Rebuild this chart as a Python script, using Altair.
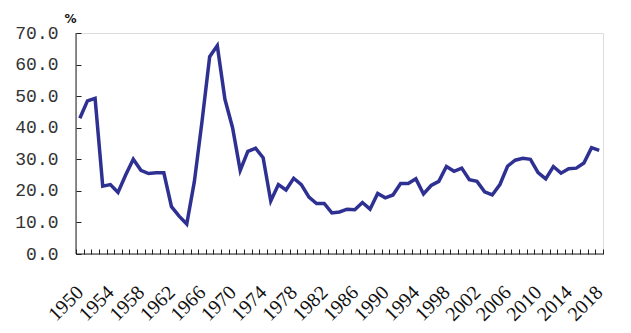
import altair as alt
import pandas as pd

years = list(range(1950, 2019))
values = [
    43.0, 48.5, 49.3, 21.5, 22.0, 19.5, 25.0, 30.0, 26.5, 25.5,
    25.7, 25.7, 15.0, 12.0, 9.5, 23.0, 42.0, 62.5, 66.0, 49.0,
    40.0, 26.5, 32.5, 33.5, 30.5, 16.8, 22.0, 20.3, 24.0, 22.0,
    18.0, 16.0, 16.0, 13.0, 13.3, 14.2, 14.0, 16.3, 14.2, 19.2,
    17.8, 18.7, 22.3, 22.3, 23.8, 19.0, 21.7, 23.0, 27.7, 26.2,
    27.2, 23.5, 23.0, 19.7, 18.7, 22.0, 27.8, 29.7, 30.3, 30.0,
    25.8, 23.8, 27.7, 25.6, 27.0, 27.2, 28.8, 33.7, 32.8,
]
y_ticks = [0, 10, 20, 30, 40, 50, 60, 70]
label_years = [str(y) for y in range(1950, 2019, 4)]

df = pd.DataFrame({"year": [str(y) for y in years], "value": values})
zero_df = pd.DataFrame({"value": [0]})

x_enc = alt.X(
    "year:O",
    sort=None,
    scale=alt.Scale(type="band", paddingInner=0, paddingOuter=0),
    axis=alt.Axis(
        title=None,
        domain=False,
        ticks=True,
        tickBand="extent",
        tickSize=5,
        tickColor="#222222",
        tickWidth=1,
        offset=-5,
        labelAngle=-45,
        labelAlign="right",
        labelBaseline="middle",
        labelPadding=35,
        labelFont="Liberation Serif",
        labelFontSize=20,
        labelColor="#111111",
        labelExpr="indexof(" + str(label_years) + ", datum.value) >= 0 ? datum.value : ''",
        labelOverlap=False,
        labelBound=False,
        grid=False,
    ),
)

y_scale = alt.Scale(domain=[0, 70], nice=False, zero=True)
y_axis = alt.Axis(
    title="%",
    titleAngle=0,
    titleAlign="right",
    titleBaseline="bottom",
    titleX=-5,
    titleY=-8,
    titleFont="DejaVu Sans",
    titleFontSize=12,
    titleFontWeight="bold",
    titleColor="#111111",
    values=y_ticks,
    format=".1f",
    domain=False,
    ticks=True,
    tickSize=5,
    tickWidth=1,
    tickColor="#222222",
    offset=-5,
    labelPadding=18,
    labelFont="Liberation Mono",
    labelFontSize=18,
    labelColor="#333333",
    labelOverlap=False,
    labelBound=False,
    labelFlush=False,
    grid=False,
)

line = alt.Chart(df).mark_line(color="#2E3192", strokeWidth=3.5).encode(
    x=x_enc, y=alt.Y("value:Q", scale=y_scale, axis=y_axis)
)

base_line = alt.Chart(zero_df).mark_rule(color="#222222", strokeWidth=1).encode(
    y=alt.Y("value:Q", scale=y_scale, axis=y_axis)
)

left_line = alt.Chart(zero_df).mark_rule(color="#222222", strokeWidth=1).encode(
    x=alt.value(0)
)

chart = (
    alt.layer(line, base_line, left_line)
    .properties(
        width=527,
        height=221,
        autosize=alt.AutoSizeParams(type="none"),
        padding={"left": 68, "top": 25, "right": 12, "bottom": 78},
    )
    .configure_view(stroke=None)
    .configure(background="white")
)

chart.save("out.html", embed_options={"renderer": "svg", "actions": False})
